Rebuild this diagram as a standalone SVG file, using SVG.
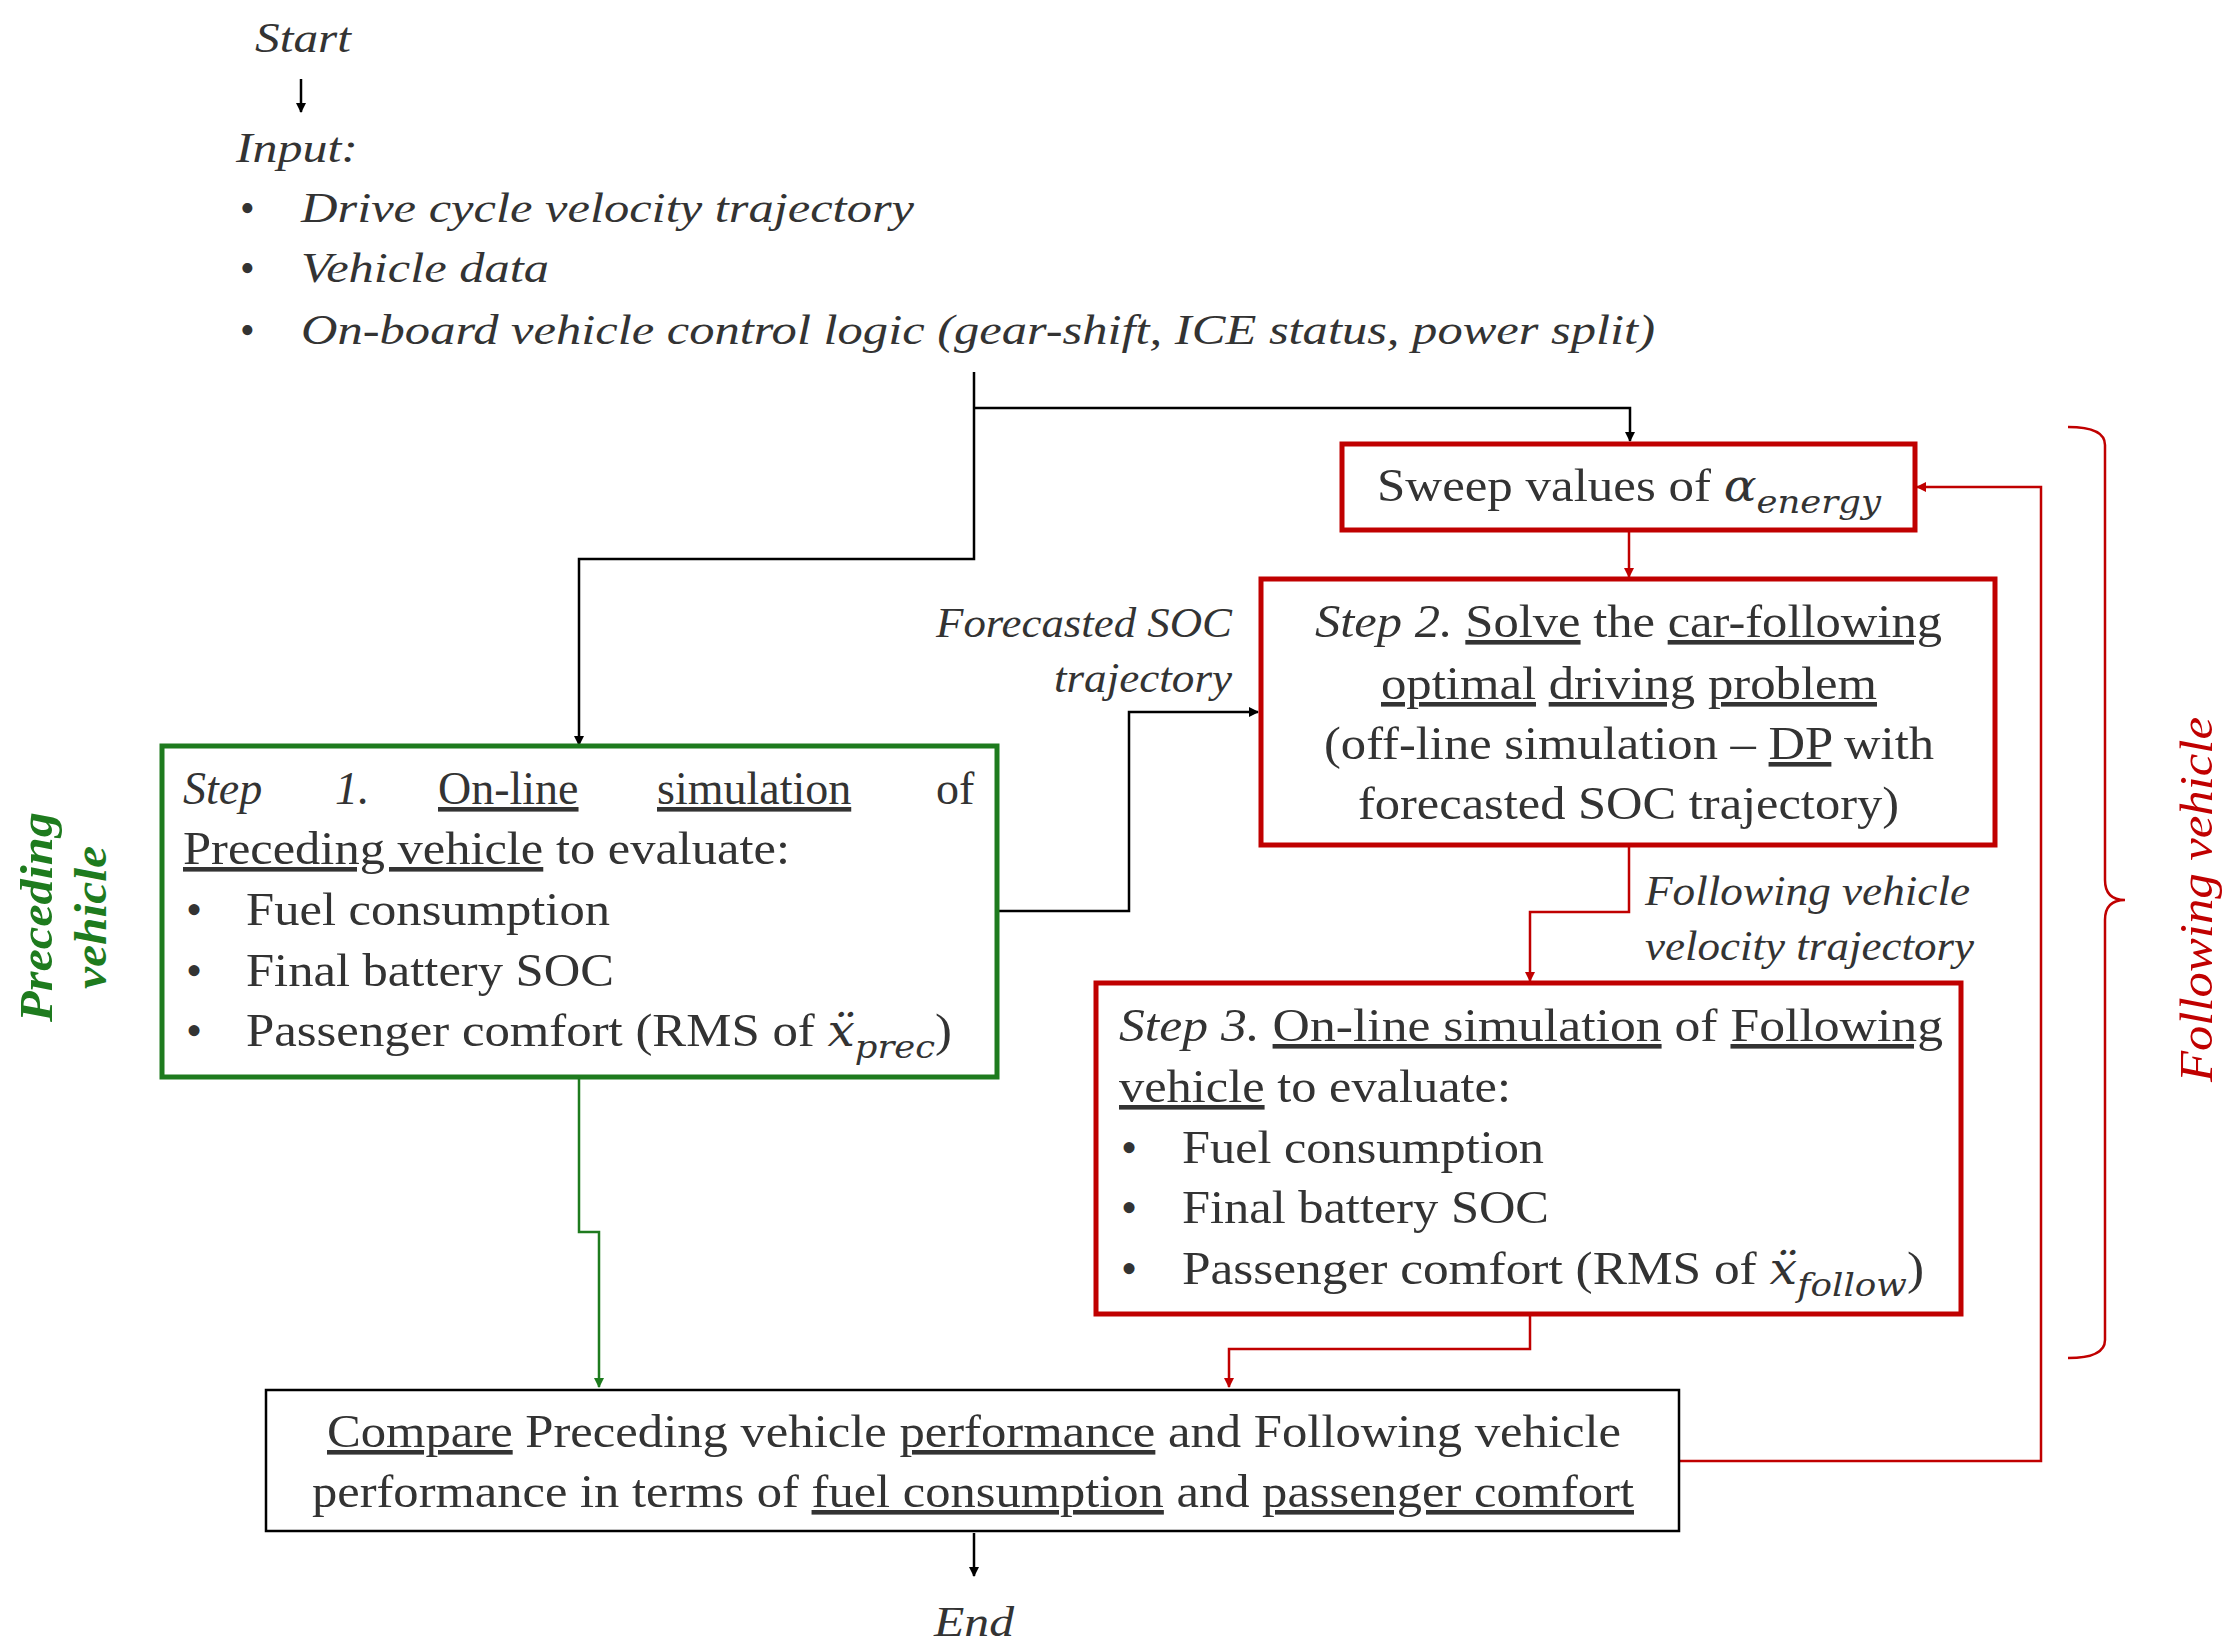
<svg xmlns="http://www.w3.org/2000/svg" width="2236" height="1645" viewBox="0 0 2236 1645">
<style>
text{font-family:"Liberation Serif","Times New Roman",serif;fill:#333;font-size:46px}
.i{font-style:italic}
.s{font-size:42px}
.u{text-decoration:underline}
.k{fill:none;stroke:#000;stroke-width:2.5}
.r{fill:none;stroke:#C00000;stroke-width:2.5}
.g{fill:none;stroke:#1E7B1E;stroke-width:2.5}
.rb{fill:#fff;stroke:#C00000;stroke-width:5}
.gb{fill:#fff;stroke:#1E7B1E;stroke-width:5}
.kb{fill:#fff;stroke:#000;stroke-width:2.5}
.m{font-style:italic;font-family:"DejaVu Serif",serif}
</style>
<defs>
<marker id="ak" markerWidth="10" markerHeight="10" refX="9" refY="5" orient="auto" markerUnits="userSpaceOnUse"><path d="M0,0 L10,5 L0,10 z" fill="#000"/></marker>
<marker id="ar" markerWidth="10" markerHeight="10" refX="9" refY="5" orient="auto" markerUnits="userSpaceOnUse"><path d="M0,0 L10,5 L0,10 z" fill="#C00000"/></marker>
<marker id="ag" markerWidth="10" markerHeight="10" refX="9" refY="5" orient="auto" markerUnits="userSpaceOnUse"><path d="M0,0 L10,5 L0,10 z" fill="#1E7B1E"/></marker>
</defs>
<g id="connectors">
<path class="k" d="M301,79 V112" marker-end="url(#ak)"/>
<path class="k" d="M974,372 V559 H579 V745" marker-end="url(#ak)"/>
<path class="k" d="M974,408 H1630 V441" marker-end="url(#ak)"/>
<path class="r" d="M1629,530 V577" marker-end="url(#ar)"/>
<path class="k" d="M998,911 H1129 V712 H1258" marker-end="url(#ak)"/>
<path class="g" d="M579,1077 V1232 H599 V1387" marker-end="url(#ag)"/>
<path class="r" d="M1629,845 V912 H1530 V981" marker-end="url(#ar)"/>
<path class="r" d="M1530,1314 V1349 H1229 V1387" marker-end="url(#ar)"/>
<path class="r" d="M1679,1461 H2041 V487 H1917" marker-end="url(#ar)"/>
<path class="k" d="M974,1533 V1576" marker-end="url(#ak)"/>
<path class="r" d="M2068,427 Q2105,427 2105,445 V880 Q2105,900 2125,900 Q2105,900 2105,920 V1340 Q2105,1358 2068,1358"/>
</g>
<g id="start"><text class="i s" x="255" y="52" textLength="96" lengthAdjust="spacingAndGlyphs">Start</text></g>
<g id="input">
<text class="i s" x="236" y="162" textLength="122" lengthAdjust="spacingAndGlyphs">Input:</text>
<text class="s" x="240" y="222">•</text><text class="i s" x="301" y="222" textLength="613" lengthAdjust="spacingAndGlyphs">Drive cycle velocity trajectory</text>
<text class="s" x="240" y="282">•</text><text class="i s" x="301" y="282" textLength="248" lengthAdjust="spacingAndGlyphs">Vehicle data</text>
<text class="s" x="240" y="344">•</text><text class="i s" x="301" y="344" textLength="1354" lengthAdjust="spacingAndGlyphs">On-board vehicle control logic (gear-shift, ICE status, power split)</text>
</g>
<g id="sweep">
<rect class="rb" x="1342" y="444" width="573" height="86"/>
<text x="1377" y="501" textLength="504" lengthAdjust="spacingAndGlyphs">Sweep values of <tspan class="m" font-size="44">α</tspan><tspan class="m" font-size="32" dy="12">energy</tspan></text>
</g>
<g id="step2">
<rect class="rb" x="1261" y="579" width="734" height="266"/>
<text x="1315" y="637" textLength="627" lengthAdjust="spacingAndGlyphs"><tspan class="i">Step 2.</tspan> <tspan class="u">Solve</tspan> the <tspan class="u">car-following</tspan></text>
<text x="1381" y="699" textLength="496" lengthAdjust="spacingAndGlyphs"><tspan class="u">optimal</tspan> <tspan class="u">driving</tspan> <tspan class="u">problem</tspan></text>
<text x="1324" y="759" textLength="610" lengthAdjust="spacingAndGlyphs">(off-line simulation – <tspan class="u">DP</tspan> with</text>
<text x="1358" y="819" textLength="541" lengthAdjust="spacingAndGlyphs">forecasted SOC trajectory)</text>
</g>
<g id="lbl-soc">
<text class="i s" x="936" y="637" textLength="296" lengthAdjust="spacingAndGlyphs">Forecasted SOC</text>
<text class="i s" x="1054" y="692" textLength="178" lengthAdjust="spacingAndGlyphs">trajectory</text>
</g>
<g id="step1">
<rect class="gb" x="162" y="746" width="835" height="331"/>
<text class="i" x="183" y="804">Step</text><text class="i" x="335" y="804">1.</text>
<text class="u" x="438" y="804">On-line</text><text class="u" x="657" y="804">simulation</text><text x="936" y="804">of</text>
<text x="183" y="864" textLength="607" lengthAdjust="spacingAndGlyphs"><tspan class="u">Preceding vehicle</tspan> to evaluate:</text>
<text x="186" y="925">•</text><text x="246" y="925" textLength="364" lengthAdjust="spacingAndGlyphs">Fuel consumption</text>
<text x="186" y="986">•</text><text x="246" y="986" textLength="368" lengthAdjust="spacingAndGlyphs">Final battery SOC</text>
<text x="186" y="1046">•</text><text x="246" y="1046" textLength="706" lengthAdjust="spacingAndGlyphs">Passenger comfort (RMS of <tspan class="m" font-size="44">ẍ</tspan><tspan class="m" font-size="32" dy="12">prec</tspan><tspan dy="-12">)</tspan></text>
</g>
<g id="lbl-prec">
<text class="i" font-weight="bold" style="fill:#1E7B1E" font-size="44" transform="translate(64,917) rotate(-90)"><tspan x="-105" y="-12" textLength="210" lengthAdjust="spacingAndGlyphs">Preceding</tspan><tspan x="-72" y="42" textLength="143" lengthAdjust="spacingAndGlyphs">vehicle</tspan></text>
</g>
<g id="lbl-follow">
<text class="i s" x="1645" y="905" textLength="325" lengthAdjust="spacingAndGlyphs">Following vehicle</text>
<text class="i s" x="1645" y="960" textLength="329" lengthAdjust="spacingAndGlyphs">velocity trajectory</text>
</g>
<g id="step3">
<rect class="rb" x="1096" y="983" width="865" height="331"/>
<text x="1119" y="1041" textLength="824" lengthAdjust="spacingAndGlyphs"><tspan class="i">Step 3.</tspan> <tspan class="u">On-line simulation</tspan> of <tspan class="u">Following</tspan></text>
<text x="1119" y="1102" textLength="392" lengthAdjust="spacingAndGlyphs"><tspan class="u">vehicle</tspan> to evaluate:</text>
<text x="1121" y="1163">•</text><text x="1182" y="1163" textLength="362" lengthAdjust="spacingAndGlyphs">Fuel consumption</text>
<text x="1121" y="1223">•</text><text x="1182" y="1223" textLength="367" lengthAdjust="spacingAndGlyphs">Final battery SOC</text>
<text x="1121" y="1284">•</text><text x="1182" y="1284" textLength="742" lengthAdjust="spacingAndGlyphs">Passenger comfort (RMS of <tspan class="m" font-size="44">ẍ</tspan><tspan class="m" font-size="32" dy="12">follow</tspan><tspan dy="-12">)</tspan></text>
</g>
<g id="lbl-following">
<text class="i" style="fill:#C00000" font-size="44" transform="translate(2212,900) rotate(-90)" x="-182" y="0" textLength="365" lengthAdjust="spacingAndGlyphs">Following vehicle</text>
</g>
<g id="compare">
<rect class="kb" x="266" y="1390" width="1413" height="141"/>
<text x="327" y="1447" textLength="1294" lengthAdjust="spacingAndGlyphs"><tspan class="u">Compare</tspan> Preceding vehicle <tspan class="u">performance</tspan> and Following vehicle</text>
<text x="312" y="1507" textLength="1322" lengthAdjust="spacingAndGlyphs">performance in terms of <tspan class="u">fuel consumption</tspan> and <tspan class="u">passenger comfort</tspan></text>
</g>
<g id="end"><text class="i s" x="934" y="1636" textLength="80" lengthAdjust="spacingAndGlyphs">End</text></g>
</svg>
